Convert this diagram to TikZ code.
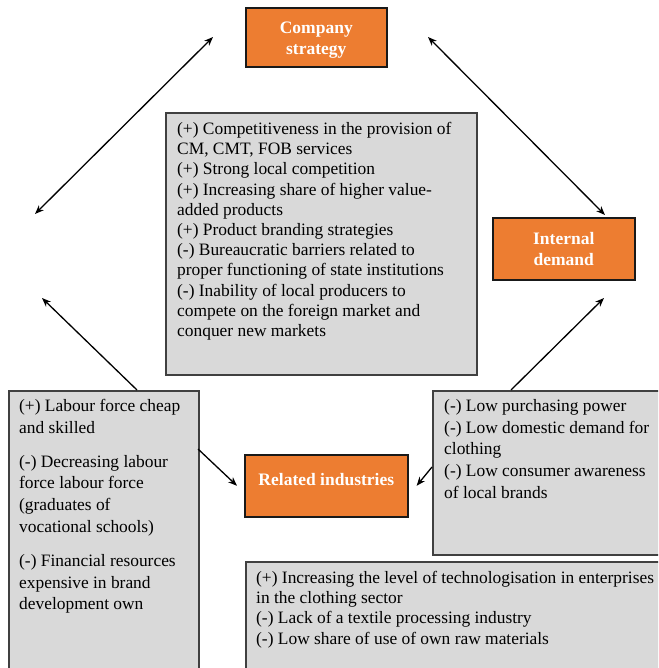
\documentclass[tikz,border=0pt]{standalone}
\usepackage{fontspec}
\setmainfont{Liberation Serif}
\usetikzlibrary{positioning,arrows.meta}
\definecolor{diamondorange}{HTML}{ED7D31}
\definecolor{notegray}{HTML}{D9D9D9}
\definecolor{noteline}{HTML}{404040}

\begin{document}
\begin{tikzpicture}[x=1pt,y=-1pt,
    factor/.style={draw=black!90, line width=1.6pt, fill=diamondorange, anchor=north west},
    factortext/.style={text=white, font=\fontsize{17.5}{21}\selectfont\bfseries, align=center, inner sep=0pt},
    notebox/.style={draw=noteline, line width=1.6pt, fill=notegray, anchor=north west},
    notetext/.style={anchor=north west, align=left, inner sep=0pt, font=\fontsize{17.4}{20.2}\selectfont},
    notewide/.style={notetext, font=\fontsize{17.4}{21.8}\selectfont},
    link/.style={-{Stealth[length=9pt,width=7pt]}, line width=1.3pt},
    both/.style={{Stealth[length=9pt,width=7pt]}-{Stealth[length=9pt,width=7pt]}, line width=1.3pt}]
    \useasboundingbox (0,0) rectangle (658,668);
    \clip (0,0) rectangle (658,668);
    \fill[white] (0,0) rectangle (658,668);

    % orange factor boxes
    \node[factor, minimum width=141pt, minimum height=59pt] (strategy) at (245,7) {};
    \node[factortext] (strategy-t) at ([yshift=-3pt]strategy.center) {Company\\strategy};
    \node[factor, minimum width=142pt, minimum height=62pt] (demand) at (492,217) {};
    \node[factortext] (demand-t) at (demand.center) {Internal\\demand};
    \node[factor, minimum width=163pt, minimum height=62pt] (related) at (244,454) {};
    \node[factortext] (related-t) at ([yshift=6pt]related.center) {Related industries};

    % grey boxes with the notes
    \node[notebox, minimum width=311pt, minimum height=262pt] (rivalry) at (165,112) {};
    \node[notetext] (rivalry-t) at ([shift={(12,10)}]rivalry.north west)
        {(+) Competitiveness in the provision of\\
         CM, CMT, FOB services\\
         (+) Strong local competition\\
         (+) Increasing share of higher value-\\
         added products\\
         (+) Product branding strategies\\
         (-) Bureaucratic barriers related to\\
         proper functioning of state institutions\\
         (-) Inability of local producers to\\
         compete on the foreign market and\\
         conquer new markets};
    \node[notebox, minimum width=190pt, minimum height=300pt] (labour) at (8,390) {};
    \node[notewide] (labour-t) at ([shift={(11,9)}]labour.north west)
        {(+) Labour force cheap\\
         and skilled\\[12pt]
         (-) Decreasing labour\\
         force labour force\\
         (graduates of\\
         vocational schools)\\[12pt]
         (-) Financial resources\\
         expensive in brand\\
         development own};
    \node[notebox, minimum width=240pt, minimum height=164pt] (market) at (432,390) {};
    \node[notewide] (market-t) at ([shift={(12,9)}]market.north west)
        {(-) Low purchasing power\\
         (-) Low domestic demand for\\
         clothing\\
         (-) Low consumer awareness\\
         of local brands};
    \node[notebox, minimum width=430pt, minimum height=130pt] (supply) at (245,561) {};
    \node[notetext] (supply-t) at ([shift={(11,10)}]supply.north west)
        {(+) Increasing the level of technologisation in enterprises\\
         in the clothing sector\\
         (-) Lack of a textile processing industry\\
         (-) Low share of use of own raw materials};

    % free ends of the connectors
    \coordinate (strategy-w) at (213,37);
    \coordinate (strategy-e) at (428,37);
    \coordinate (factors-up) at (35,214);
    \coordinate (factors-down) at (42,298);
    \coordinate (demand-up) at (605,215);
    \coordinate (demand-down) at (604,298);
    \coordinate (labour-n) at (137,390);
    \coordinate (labour-e) at (198,449);
    \coordinate (market-n) at (511,390);
    \coordinate (market-w) at (432,467);

    \draw[both] (strategy-w) -- (factors-up);
    \draw[both] (strategy-e) -- (demand-up);
    \draw[link] (labour-n) -- (factors-down);
    \draw[link] (market-n) -- (demand-down);
    \draw[link] (labour-e) -- ([xshift=-7pt]related.west);
    \draw[link] (market-w) -- ([xshift=8pt]related.east);
\end{tikzpicture}
\end{document}
